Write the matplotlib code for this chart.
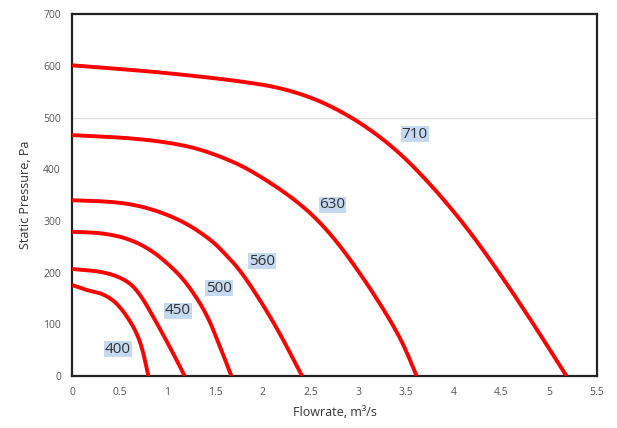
import numpy as np
import matplotlib
matplotlib.use('Agg')
import matplotlib.pyplot as plt

# Fan curves: flowrate (m3/s) vs static pressure (Pa)
x_400 = [0.0, 0.19, 0.33, 0.50, 0.71, 0.80]
y_400 = [176, 164, 159, 137, 76, 0]

x_450 = [0.0, 0.33, 0.57, 0.71, 0.89, 1.06, 1.18]
y_450 = [207, 202, 186, 160, 102, 44, 0]

x_500 = [0.0, 0.31, 0.59, 0.83, 1.05, 1.21, 1.41, 1.55, 1.67]
y_500 = [279, 277, 266, 244, 210, 178, 121, 57, 0]

x_560 = [0.0, 0.48, 0.83, 1.18, 1.46, 1.60, 1.76, 1.97, 2.18, 2.41]
y_560 = [340, 337, 324, 298, 263, 237, 205, 147, 82, 0]

x_630 = [0.0, 0.66, 1.18, 1.53, 1.88, 2.39, 2.73, 3.09, 3.44, 3.61]
y_630 = [466, 460, 447, 427, 398, 335, 272, 180, 76, 0]

x_710 = [0.0, 0.92, 1.97, 2.39, 2.73, 3.09, 3.44, 3.78, 4.13, 4.48, 4.83, 5.18]
y_710 = [601, 588, 566, 547, 521, 482, 431, 366, 289, 199, 102, 0]

curve_names = ['400', '450', '500', '560', '630', '710']
label_x = [0.48, 1.11, 1.54, 1.99, 2.73, 3.59]
label_y = [52, 126, 170, 222, 331, 468]

curves = [(x_400, y_400), (x_450, y_450), (x_500, y_500),
          (x_560, y_560), (x_630, y_630), (x_710, y_710)]

plt.rcParams['font.family'] = ['Open Sans', 'DejaVu Sans']

fig = plt.figure(figsize=(6.17, 4.28), dpi=100)
ax = fig.add_axes([0.1167, 0.1215, 0.8509, 0.8455])


def chaikin(xs, ys, rounds=5):
    # corner cutting, keeps the end points, evens out reading noise
    pts = np.column_stack([xs, ys]).astype(float)
    for _ in range(rounds):
        p, q = pts[:-1], pts[1:]
        a = 0.75 * p + 0.25 * q
        b = 0.25 * p + 0.75 * q
        mid = np.empty((2 * len(p), 2))
        mid[0::2], mid[1::2] = a, b
        pts = np.vstack([pts[:1], mid[1:-1], pts[-1:]])
    return pts[:, 0], pts[:, 1]


ax.axhline(500, color='#dcdcdc', lw=0.8, zorder=0)

for (xs, ys) in curves:
    xx, yy = chaikin(xs, ys)
    ax.plot(xx, yy, color='#ff0000', lw=2.8, solid_capstyle='butt',
            solid_joinstyle='round', zorder=3)

for name, lx, ly in zip(curve_names, label_x, label_y):
    ax.text(lx, ly, name, ha='center', va='center', fontsize=11,
            color='#333333', zorder=4,
            bbox=dict(boxstyle='square,pad=0.05', fc='#c5d9f1', ec='none'))

ax.set_xlim(0, 5.5)
ax.set_ylim(0, 700)
ax.set_xticks(np.arange(0, 5.51, 0.5))
ax.set_xticklabels(['0', '0.5', '1', '1.5', '2', '2.5', '3', '3.5', '4', '4.5', '5', '5.5'])
ax.set_yticks(range(0, 701, 100))
ax.tick_params(length=0, labelsize=7.5, labelcolor='#555555', pad=8)

for s in ax.spines.values():
    s.set_linewidth(1.6)
    s.set_color('#222222')

ax.set_xlabel('Flowrate, m³/s', fontsize=9, color='#333333', labelpad=6)
ax.set_ylabel('Static Pressure, Pa', fontsize=9, color='#333333', labelpad=8)

fig.savefig('out.png', dpi=100)
